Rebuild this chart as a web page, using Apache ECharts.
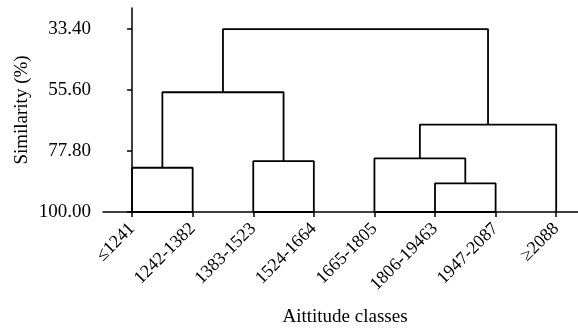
<!DOCTYPE html>
<html>
<head>
<meta charset="utf-8">
<script src="https://cdn.jsdelivr.net/npm/echarts@6/dist/echarts.min.js"></script>
<style>html,body{margin:0;padding:0;background:#fff}#c{width:578px;height:329px}</style>
</head>
<body>
<div id="c"></div>
<script>
// Leaf categories (x axis)
const categories = ['≤1241', '1242-1382', '1383-1523', '1524-1664', '1665-1805', '1806-19463', '1947-2087', '≥2088'];
// Y tick labels (similarity %)
const yTicks = [33.40, 55.60, 77.80, 100.00];
// Dendrogram merges: node ids 0..7 are leaves, each merge creates node 8, 9, ...
const mergeLeft = [5, 0, 2, 4, 11, 9, 13];
const mergeRight = [6, 1, 3, 8, 7, 10, 12];
const mergeSimilarity = [89.6, 83.9, 81.5, 80.5, 68.2, 56.4, 33.4];
// Leaf ranges joined along the baseline (100%)
const baseLinkFrom = [0, 2, 4];
const baseLinkTo = [1, 3, 6];

const nodeX = categories.map((_, i) => i);
const nodeY = categories.map(() => 100);
const series = [];
const lineStyle = { color: '#000', width: 1.8 };
function addSeg(pts) {
  series.push({ type: 'line', data: pts, symbol: 'none', lineStyle, silent: true, animation: false });
}
for (let k = 0; k < mergeLeft.length; k++) {
  const a = mergeLeft[k], b = mergeRight[k], h = mergeSimilarity[k];
  addSeg([[nodeX[a], nodeY[a]], [nodeX[a], h], [nodeX[b], h], [nodeX[b], nodeY[b]]]);
  nodeX.push((nodeX[a] + nodeX[b]) / 2);
  nodeY.push(h);
}
for (let k = 0; k < baseLinkFrom.length; k++) {
  addSeg([[baseLinkFrom[k], 100], [baseLinkTo[k], 100]]);
}

const font = 'Liberation Serif';
const leafPos = nodeX.slice(0, categories.length);
const chart = echarts.init(document.getElementById('c'), null, { renderer: 'canvas' });
chart.setOption({
  animation: false,
  grid: { left: 103, right: 0, top: 8, bottom: 117, containLabel: false, outerBoundsMode: 'none' },
  xAxis: {
    type: 'value', min: -0.48, max: 7.36,
    name: 'Aittitude classes', nameLocation: 'middle', nameGap: 96, nameMoveOverlap: false,
    nameTextStyle: { fontFamily: font, fontSize: 19, color: '#000', padding: [0, 0, 0, 9] },
    axisLine: { show: true, lineStyle: { color: '#000', width: 1.5 } },
    axisTick: { show: true, length: 5, lineStyle: { color: '#000', width: 1.5 }, customValues: leafPos },
    axisLabel: { rotate: 45, margin: 14, fontFamily: font, fontSize: 18, color: '#000',
      customValues: leafPos, formatter: v => categories[Math.round(v)] },
    splitLine: { show: false }
  },
  yAxis: {
    type: 'value', inverse: true, min: 25.74, max: 100,
    name: 'Similarity (%)', nameLocation: 'middle', nameGap: 71, nameMoveOverlap: false,
    nameTextStyle: { fontFamily: font, fontSize: 19, color: '#000' },
    axisLine: { show: true, lineStyle: { color: '#000', width: 1.5 } },
    axisTick: { show: true, length: 5, lineStyle: { color: '#000', width: 1.5 }, customValues: yTicks },
    axisLabel: { margin: 12, fontFamily: font, fontSize: 19, color: '#000', customValues: yTicks, formatter: v => v.toFixed(2) },
    splitLine: { show: false }
  },
  series
});
</script>
</body>
</html>
